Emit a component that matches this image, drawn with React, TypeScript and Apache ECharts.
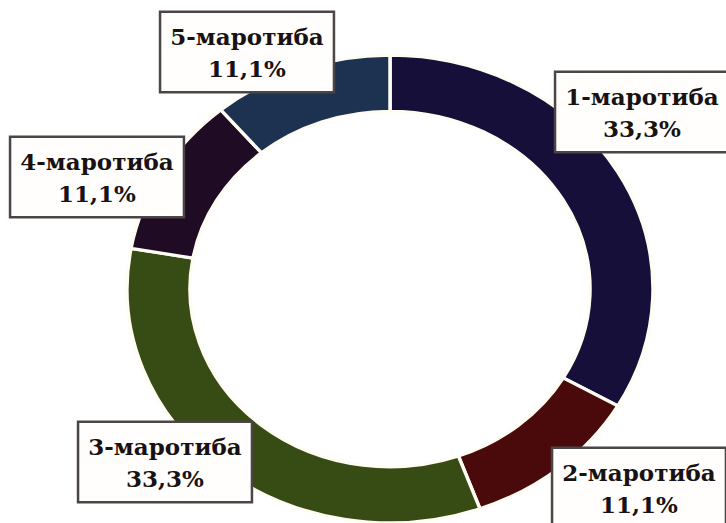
import React, { useEffect, useRef } from "react";
import * as echarts from "echarts";

// Data
const categories = ["1-маротиба", "2-маротиба", "3-маротиба", "4-маротиба", "5-маротиба"];
const shares = [33.3, 11.1, 33.3, 11.1, 11.1];

// Styles / layout
const colors = ["#150f3a", "#4a0a0c", "#374c14", "#1f0b24", "#1d3150"];
const labelCenters: [number, number][] = [
  [642, 112],
  [639, 488],
  [165, 462],
  [97, 177],
  [247, 52],
];

export default function App() {
  const ref = useRef<HTMLDivElement>(null);
  useEffect(() => {
    document.body.style.margin = "0";
    const chart = echarts.init(ref.current!, null, { renderer: "svg" });
    const total = shares.reduce((a, b) => a + b, 0);
    const starts: number[] = [];
    let acc = 0;
    shares.forEach((v) => {
      starts.push(acc);
      acc += v;
    });
    const cx = 390;
    const cy = 289;
    const rOuter = 263;
    const rInner = 200;
    const squash = 0.889;
    chart.setOption({
      animation: false,
      backgroundColor: "#ffffff",
      series: [
        {
          type: "custom",
          coordinateSystem: "none",
          data: shares.map((v, i) => ({ name: categories[i], value: v })),
          renderItem: (params: any, api: any) => {
            const i = params.dataIndex;
            const v = api.value(0) as number;
            const a0 = (starts[i] / total) * 2 * Math.PI - Math.PI / 2;
            const a1 = ((starts[i] + v) / total) * 2 * Math.PI - Math.PI / 2;
            const [lx, ly] = labelCenters[i];
            return {
              type: "group",
              children: [
                {
                  type: "sector",
                  x: cx,
                  y: cy,
                  scaleY: squash,
                  shape: { cx: 0, cy: 0, r: rOuter, r0: rInner, startAngle: a0, endAngle: a1, clockwise: true },
                  style: { fill: colors[i], stroke: "#fffdf3", lineWidth: 3.5 },
                },
                {
                  type: "text",
                  x: lx,
                  y: ly,
                  z2: 10,
                  style: {
                    text: `${categories[i]}\n${v.toFixed(1).replace(".", ",")}%`,
                    fill: "#181212",
                    font: 'bold 23px "DejaVu Serif"',
                    align: "center",
                    verticalAlign: "middle",
                    lineHeight: 32,
                    backgroundColor: "#fffefc",
                    borderColor: "#4b4545",
                    borderWidth: 2.5,
                    padding: [7, 9, 7, 9],
                  },
                },
              ],
            };
          },
        },
      ],
    });
    return () => chart.dispose();
  }, []);
  return <div ref={ref} style={{ width: 726, height: 523 }} />;
}
